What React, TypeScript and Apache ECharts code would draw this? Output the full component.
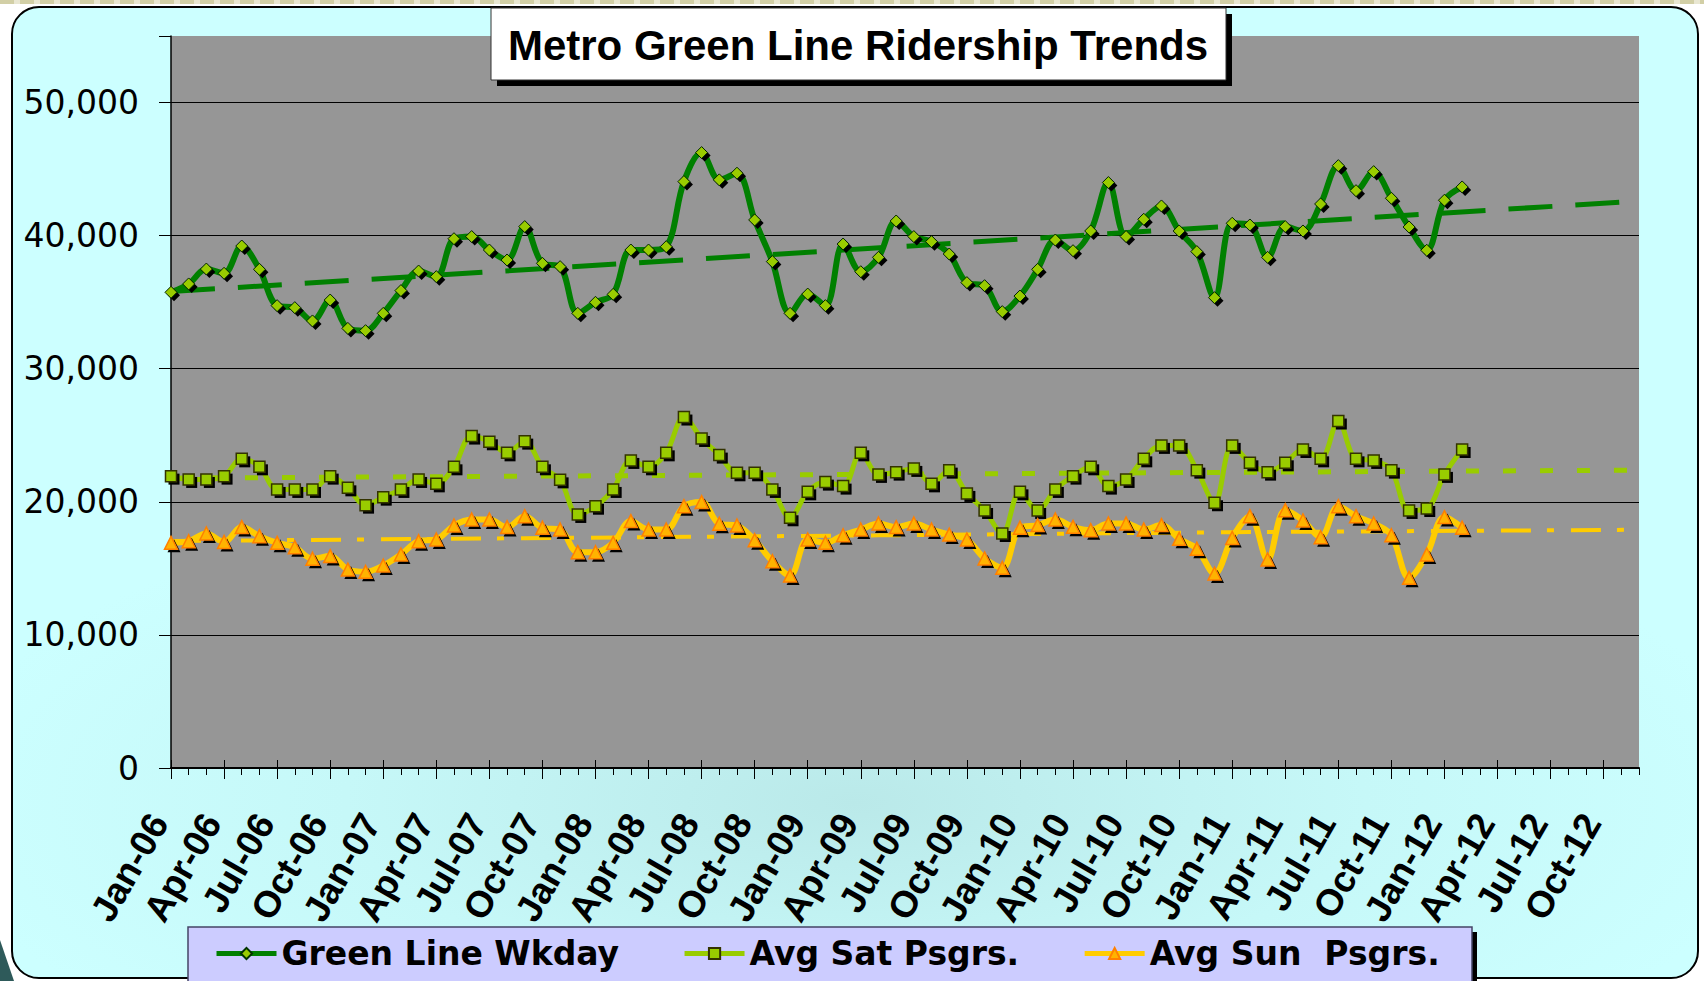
import React, { useEffect, useRef } from 'react';
import * as echarts from 'echarts';

const MONTHS = ['Jan', 'Feb', 'Mar', 'Apr', 'May', 'Jun', 'Jul', 'Aug', 'Sep', 'Oct', 'Nov', 'Dec'];
const YEARS = ['06', '07', '08', '09', '10', '11', '12'];
const CATEGORIES = YEARS.flatMap((y) => MONTHS.map((m) => `${m}-${y}`));

const TITLE = 'Metro Green Line Ridership Trends';
const SERIES_NAMES = ['Green Line Wkday', 'Avg Sat Psgrs.', 'Avg Sun  Psgrs.'];

const WKDAY = [
  35740, 36370, 37490, 37170, 39220, 37470, 34740, 34590, 33590, 35160, 33030, 32860,
  34160, 35870, 37340, 36920, 39770, 39930, 38920, 38170, 40680, 37920, 37670, 34160,
  34990, 35590, 38920, 38920, 39170, 44060, 46240, 44190, 44690, 41180, 38050, 34160,
  35610, 34740, 39370, 37290, 38370, 41100, 39930, 39550, 38620, 36470, 36240, 34290,
  35460, 37470, 39670, 38870, 40350, 43990, 39930, 41230, 42230, 40350, 38800, 35340,
  40930, 40800, 38370, 40680, 40350, 42380, 45260, 43380, 44810, 42810, 40650, 38900,
  42660, 43660,
];

const SAT = [
  21930, 21680, 21680, 21930, 23230, 22630, 20930, 20930, 20930, 21930, 21050, 19750,
  20350, 20930, 21680, 21350, 22630, 24940, 24510, 23680, 24560, 22630, 21650, 19050,
  19670, 20930, 23110, 22630, 23680, 26370, 24760, 23510, 22180, 22180, 20930, 18800,
  20750, 21480, 21180, 23680, 22060, 22230, 22510, 21350, 22380, 20630, 19350, 17620,
  20750, 19350, 20930, 21930, 22630, 21180, 21680, 23230, 24240, 24240, 22380, 19930,
  24240, 22930, 22230, 22930, 23930, 23230, 26070, 23230, 23110, 22380, 19350, 19500,
  22060, 23930,
];

const SUN = [
  16920, 17040, 17620, 16990, 18100, 17420, 16920, 16590, 15720, 15920, 14910, 14740,
  15210, 16040, 17040, 17170, 18220, 18670, 18670, 18100, 18920, 18050, 17920, 16220,
  16220, 16920, 18550, 17920, 17920, 19670, 19980, 18350, 18220, 17120, 15540, 14460,
  17170, 16920, 17490, 17920, 18370, 18100, 18370, 17920, 17540, 17170, 15750, 15040,
  18050, 18250, 18670, 18120, 17870, 18370, 18370, 17920, 18250, 17220, 16470, 14610,
  17290, 18920, 15670, 19370, 18600, 17340, 19670, 18920, 18370, 17490, 14290, 16040,
  18850, 18050,
];

// trend lines: [category index, value]
const WKDAY_TREND = [[0, 35800], [83, 42600]];
const SAT_TREND = [[0, 21780], [83, 22380]];
const SUN_TREND = [[0, 17050], [20, 17270], [40, 17480], [60, 17720], [83, 17900]];

const Y_MIN = 0;
const Y_MAX = 55000;
const Y_INTERVAL = 10000;

export default function App() {
  const ref = useRef<HTMLDivElement>(null);

  useEffect(() => {
    if (!ref.current) return;
    const chart = echarts.init(ref.current, null, { renderer: 'svg' });

    const catAxisBase = {
      type: 'category',
      data: CATEGORIES,
      boundaryGap: false,
      position: 'bottom',
      splitLine: { show: false },
    };

    const markerSeries = (data: number[], symbol: string, size: number, style: any) => [
      {
        type: 'scatter',
        data,
        symbol,
        symbolSize: size,
        symbolOffset: [3, 3],
        itemStyle: { color: '#000000', opacity: 1 },
        silent: true,
        z: 4,
      },
      {
        type: 'scatter',
        data,
        symbol,
        symbolSize: size,
        itemStyle: { ...style, opacity: 1 },
        silent: true,
        z: 5,
      },
    ];

    const option: any = {
      animation: false,
      backgroundColor: 'transparent',
      grid: {
        left: 171,
        right: 65,
        top: 36,
        bottom: 213,
        show: true,
        backgroundColor: '#969696',
        borderWidth: 0,
      },
      graphic: [
        {
          type: 'rect',
          shape: { x: 497, y: 14, width: 735, height: 72 },
          style: { fill: '#000000' },
          z: 20,
        },
        {
          type: 'rect',
          shape: { x: 491, y: 8, width: 735, height: 72 },
          style: { fill: '#ffffff', stroke: '#333333', lineWidth: 1 },
          z: 21,
        },
        {
          type: 'text',
          x: 858,
          y: 45,
          style: {
            text: TITLE,
            fontFamily: 'Liberation Sans, Arial, sans-serif',
            fontWeight: 'bold',
            fontSize: 42,
            fill: '#000000',
            align: 'center',
            verticalAlign: 'middle',
          },
          z: 22,
        },
        {
          type: 'rect',
          shape: { x: 193, y: 932, width: 1284, height: 60 },
          style: { fill: '#000000' },
          z: 1,
        },
        {
          type: 'rect',
          shape: { x: 188, y: 927, width: 1284, height: 60 },
          style: { fill: '#CCCCFF', stroke: '#444466', lineWidth: 1.5 },
          z: 2,
        },
      ],
      legend: {
        data: SERIES_NAMES,
        left: 214,
        top: 937,
        orient: 'horizontal',
        itemWidth: 60,
        itemHeight: 14,
        itemGap: 63,
        padding: 0,
        selectedMode: false,
        lineStyle: { width: 5 },
        textStyle: {
          fontFamily: 'DejaVu Sans',
          fontWeight: 'bold',
          fontSize: 33,
          color: '#000000',
        },
        z: 10,
      },
      xAxis: [
        {
          ...catAxisBase,
          axisLine: { show: true, lineStyle: { color: '#000000', width: 2 } },
          axisTick: { show: true, interval: 2, length: 11, lineStyle: { color: '#000000', width: 1 } },
          axisLabel: {
            interval: 2,
            rotate: 60,
            margin: 28,
            padding: [0, 24, 0, 0],
            fontFamily: 'Liberation Sans, Arial, sans-serif',
            fontWeight: 'bold',
            fontSize: 37,
            color: '#000000',
          },
        },
        {
          ...catAxisBase,
          axisLine: { show: false },
          axisTick: { show: true, interval: 2, inside: true, length: 8, lineStyle: { color: '#000000', width: 1 } },
          axisLabel: { show: false },
        },
        {
          ...catAxisBase,
          axisLine: { show: false },
          axisTick: { show: true, interval: 0, length: 7, lineStyle: { color: '#000000', width: 1 } },
          axisLabel: { show: false },
        },
      ],
      yAxis: {
        type: 'value',
        min: Y_MIN,
        max: Y_MAX,
        interval: Y_INTERVAL,
        axisLine: { show: true, lineStyle: { color: '#000000', width: 1.5 } },
        axisTick: { show: true, length: 12, lineStyle: { color: '#000000', width: 1 } },
        axisLabel: {
          margin: 32,
          fontFamily: 'DejaVu Sans',
          fontSize: 33,
          color: '#000000',
          formatter: (v: number) => (v > 50000 ? '' : v.toLocaleString('en-US')),
        },
        splitLine: {
          show: true,
          lineStyle: {
            color: ['#000000', '#000000', '#000000', '#000000', '#000000', '#000000', 'rgba(0,0,0,0)'],
            width: 1,
          },
        },
      },
      series: [
        {
          type: 'line',
          data: WKDAY_TREND,
          showSymbol: false,
          symbol: 'none',
          silent: true,
          lineStyle: { color: '#008000', width: 5, type: [44, 23] },
          z: 1,
        },
        {
          type: 'line',
          data: SAT_TREND,
          showSymbol: false,
          symbol: 'none',
          silent: true,
          lineStyle: { color: '#99CC00', width: 5, type: [13, 24] },
          z: 1,
        },
        {
          type: 'line',
          data: SUN_TREND,
          showSymbol: false,
          symbol: 'none',
          silent: true,
          lineStyle: { color: '#FFCC00', width: 4, type: [30, 16, 7, 17] },
          z: 1,
        },
        {
          name: SERIES_NAMES[0],
          type: 'line',
          data: WKDAY,
          smooth: 0.35,
          showSymbol: false,
          symbol: 'diamond',
          symbolSize: 12,
          lineStyle: { color: '#008000', width: 6 },
          itemStyle: { color: '#99CC00', borderColor: '#003300', borderWidth: 1 },
          z: 3,
        },
        {
          name: SERIES_NAMES[1],
          type: 'line',
          data: SAT,
          smooth: 0.35,
          showSymbol: false,
          symbol: 'rect',
          symbolSize: 11,
          lineStyle: { color: '#99CC00', width: 5 },
          itemStyle: { color: '#99CC00', borderColor: '#333300', borderWidth: 1.5 },
          z: 3,
        },
        {
          name: SERIES_NAMES[2],
          type: 'line',
          data: SUN,
          smooth: 0.35,
          showSymbol: false,
          symbol: 'triangle',
          symbolSize: 13,
          lineStyle: { color: '#FFCC00', width: 6 },
          itemStyle: { color: '#FFB300', borderColor: '#FF8000', borderWidth: 1.5 },
          z: 3,
        },
        ...markerSeries(WKDAY, 'diamond', 12, { color: '#99CC00', borderColor: '#002200', borderWidth: 1 }),
        ...markerSeries(SAT, 'rect', 11, { color: '#99CC00', borderColor: '#333300', borderWidth: 1.5 }),
        ...markerSeries(SUN, 'triangle', 13, { color: '#FFB300', borderColor: '#FF8000', borderWidth: 1.5 }),
      ],
    };

    chart.setOption(option);
    return () => chart.dispose();
  }, []);

  return (
    <div
      style={{
        position: 'fixed',
        left: 0,
        top: 0,
        width: 1704,
        height: 981,
        background: '#ffffff',
        overflow: 'hidden',
      }}
    >
      <div
        style={{
          position: 'absolute',
          left: 0,
          top: 0,
          width: 1704,
          height: 4,
          background: 'repeating-linear-gradient(90deg, #D2CFA6 0px, #D2CFA6 14px, #E9E7D2 14px, #E9E7D2 20px)',
        }}
      />
      <div
        style={{
          position: 'absolute',
          left: 11,
          top: 6,
          width: 1688,
          height: 973,
          boxSizing: 'border-box',
          border: '2px solid #000000',
          borderRadius: 28,
          background: 'radial-gradient(ellipse 55% 35% at 50% 82%, #BAE9E9 0%, #C6F8F8 55%, #CCFFFF 100%)',
        }}
      />
      <div
        style={{
          position: 'absolute',
          left: 0,
          top: 940,
          width: 14,
          height: 41,
          background: '#2E5A5A',
          clipPath: 'polygon(0 0, 100% 100%, 0 100%)',
        }}
      />
      <div ref={ref} style={{ position: 'absolute', left: 0, top: 0, width: 1704, height: 981 }} />
    </div>
  );
}
